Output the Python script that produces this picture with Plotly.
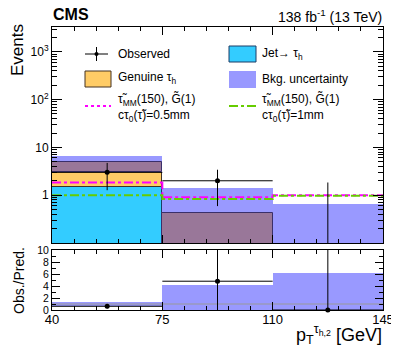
import numpy as np
import plotly.graph_objects as go
from plotly.subplots import make_subplots

# binning in pT(tau_h,2) [GeV]
bin_edges = [40, 75, 110, 145]
centers = [57.5, 92.5, 127.5]
widths = [35, 35, 35]

# stacked backgrounds (events)
jet_to_tau = [1.45, 0.0, 0.0]
genuine_tau = [3.55, 0.42, 0.0]
bkg_unc_low = [3.05, 0.01, 0.01]
bkg_unc_high = [6.6, 1.4, 0.66]

# observed
observed = [3.0, 2.0, 0.0]
obs_err_up = [1.73, 1.41, 1.84]
obs_err_down = [1.73, 1.41, 0.0]

# signals
sig_05mm = [1.84, 0.9, 1.0]
sig_1mm = [1.0, 0.83, 0.97]

# ratio panel
ratio_obs = [0.62, 4.8, 0.0]
ratio_err_up = [0.36, 8.0, 12.0]
ratio_err_down = [0.36, 6.0, 0.0]
ratio_band_low = [0.63, 0.0, 0.0]
ratio_band_high = [1.37, 4.2, 6.2]

FLOOR = 1e-3
CYAN = "#33ccff"
ORANGE = "#ffcc66"
BAND = "#9999ff"
MAUVE = "#997799"
FONT = "Liberation Sans, Arial, sans-serif"

jet = np.array(jet_to_tau)
gen = np.array(genuine_tau)
total = jet + gen
lo = np.array(bkg_unc_low)
hi = np.array(bkg_unc_high)
ov_hi = np.minimum(total, hi)

fig = make_subplots(rows=2, cols=1, shared_xaxes=True)

fig.add_trace(go.Bar(x=centers, y=np.maximum(jet - FLOOR, 0), base=[FLOOR] * 3, width=widths,
                     marker=dict(color=CYAN, line=dict(color="#1c3d66", width=1))), row=1, col=1)
fig.add_trace(go.Bar(x=centers, y=gen, base=np.where(jet > 0, jet, FLOOR), width=widths,
                     marker=dict(color=ORANGE, line=dict(color="#443322", width=1))), row=1, col=1)
fig.add_trace(go.Bar(x=centers, y=hi - lo, base=lo, width=widths,
                     marker=dict(color=BAND, line=dict(width=0))), row=1, col=1)
fig.add_trace(go.Bar(x=centers, y=np.maximum(ov_hi - lo, 0), base=lo, width=widths,
                     marker=dict(color=MAUVE, line=dict(color="#3a2f6a", width=1))), row=1, col=1)

edges_y05 = sig_05mm + [sig_05mm[-1]]
edges_y1 = sig_1mm + [sig_1mm[-1]]
fig.add_trace(go.Scatter(x=bin_edges, y=edges_y05, mode="lines", line_shape="hv",
                         line=dict(color="#ff00ff", width=2, dash="dashdot")), row=1, col=1)
fig.add_trace(go.Scatter(x=bin_edges, y=edges_y1, mode="lines", line_shape="hv",
                         line=dict(color="#66cc00", width=2, dash="dashdot")), row=1, col=1)

obs_plot = np.where(np.array(observed) > 0, observed, FLOOR)
fig.add_trace(go.Scatter(x=centers, y=obs_plot, mode="markers",
                         marker=dict(color="black", size=5),
                         error_x=dict(type="data", array=[w / 2 for w in widths], color="black", thickness=1, width=0),
                         error_y=dict(type="data", symmetric=False, array=obs_err_up, arrayminus=obs_err_down,
                                      color="black", thickness=1, width=0)), row=1, col=1)

# ratio
fig.add_trace(go.Bar(x=centers, y=np.array(ratio_band_high) - np.array(ratio_band_low), base=ratio_band_low,
                     width=widths, marker=dict(color=BAND, line=dict(width=0))), row=2, col=1)
fig.add_trace(go.Scatter(x=[bin_edges[0], bin_edges[-1]], y=[1, 1], mode="lines",
                         line=dict(color="#999999", width=1)), row=2, col=1)
fig.add_trace(go.Scatter(x=centers, y=ratio_obs, mode="markers", cliponaxis=False,
                         marker=dict(color="black", size=5),
                         error_x=dict(type="data", array=[w / 2 for w in widths], color="black", thickness=1, width=0),
                         error_y=dict(type="data", symmetric=False, array=ratio_err_up, arrayminus=ratio_err_down,
                                      color="black", thickness=1, width=0)), row=2, col=1)

axis_common = dict(showline=True, linecolor="black", linewidth=1, mirror="allticks", ticks="inside",
                   tickcolor="black", showgrid=False, zeroline=False, automargin=False)

log_minor = [m * 10.0 ** e for e in range(-1, 4) for m in range(2, 10) if m * 10.0 ** e < 3300]

fig.update_xaxes(range=[40, 145], tickvals=bin_edges, ticklen=8,
                 minor=dict(ticks="inside", dtick=7, tick0=40, ticklen=4, tickcolor="black"), **axis_common)
fig.update_xaxes(showticklabels=False, row=1, col=1)
fig.update_xaxes(tickfont=dict(size=13, color="black"), ticklabelstandoff=-3, row=2, col=1)

fig.update_yaxes(type="log", range=[-1, 3.52], domain=[0.237, 1], tickvals=[1, 10, 100, 1000],
                 ticktext=["1", "10", "10<sup>2</sup>", "10<sup>3</sup>"], ticklen=10,
                 tickfont=dict(size=12, color="black"),
                 minor=dict(ticks="inside", tickmode="array", tickvals=log_minor, ticklen=5, tickcolor="black"),
                 row=1, col=1, **axis_common)
fig.update_yaxes(range=[0, 10], domain=[0, 0.212], tickvals=[0, 2, 4, 6, 8, 10], ticklen=8,
                 tickfont=dict(size=10.5, color="black"),
                 minor=dict(ticks="inside", dtick=1, ticklen=4, tickcolor="black"),
                 row=2, col=1, **axis_common)

# screen positions (reference pixels) -> paper coordinates; page has an 8px body offset
W, H = 399, 350
L, T, R, B = 44, 19, 24, 48
OFF = 8
PW, PH = W - L - R, H - T - B


def px(x):
    return (x - OFF - L) / PW


def py(y):
    return 1 - (y - OFF - T) / PH


ann = []


def text_at(x, y, text, size=12, xanchor="left", angle=0):
    ann.append(dict(x=px(x), y=py(y), xref="paper", yref="paper", xanchor=xanchor, yanchor="middle",
                    text=text, showarrow=False, textangle=angle, font=dict(size=size, color="black")))


text_at(51, 15, "<b>CMS</b>", size=16)
text_at(384, 16, "138 fb<sup>-1</sup> (13 TeV)", size=14, xanchor="right")
text_at(17, 50, "Events", size=17, xanchor="center", angle=-90)
text_at(19, 281, "Obs./Pred.", size=14, xanchor="center", angle=-90)
text_at(384, 334, "p<sub>T</sub><sup>τ<sub>h,2</sub></sup> [GeV]", size=18, xanchor="right")

shapes = []


def seg(x0, y0, x1, y1, color, width=1, dash="solid"):
    shapes.append(dict(type="line", xref="paper", yref="paper", x0=px(x0), x1=px(x1), y0=py(y0), y1=py(y1),
                       line=dict(color=color, width=width, dash=dash)))


def box(x0, y0, x1, y1, fill, line_color=None):
    shapes.append(dict(type="rect", xref="paper", yref="paper", x0=px(x0), x1=px(x1), y0=py(y0), y1=py(y1),
                       fillcolor=fill, line=dict(color=line_color or fill, width=1 if line_color else 0)))


# legend, left column
seg(85, 54, 108, 54, "black")
seg(96.5, 47, 96.5, 61, "black")
shapes.append(dict(type="circle", xref="paper", yref="paper", x0=px(94.5), x1=px(98.5), y0=py(52), y1=py(56),
                   fillcolor="black", line=dict(color="black", width=0)))
text_at(116, 54, "Observed")
box(85, 71, 111, 87, ORANGE, "#443322")
text_at(116, 78, "Genuine τ<sub>h</sub>")
seg(85, 106, 111, 106, "#ff00ff", 2, "dot")
text_at(116, 99, "τ̃<sub>MM</sub>(150), G̃(1)")
text_at(116, 116, "cτ<sub>0</sub>(τ̃)=0.5mm")

# legend, right column
box(229, 46, 256, 62, CYAN, "#1c3d66")
text_at(260, 54, "Jet→ τ<sub>h</sub>")
box(229, 71, 256, 88, BAND)
text_at(260, 79, "Bkg. uncertainty")
seg(229, 106, 256, 106, "#66cc00", 2, "dashdot")
text_at(260, 99, "τ̃<sub>MM</sub>(150), G̃(1)")
text_at(260, 116, "cτ<sub>0</sub>(τ̃)=1mm")

fig.update_layout(width=W, height=H, margin=dict(l=L, r=R, t=T, b=B), barmode="overlay", bargap=0,
                  showlegend=False, plot_bgcolor="white", paper_bgcolor="white",
                  font=dict(family=FONT, color="black"), annotations=ann, shapes=shapes)

fig.write_html("out.html")
